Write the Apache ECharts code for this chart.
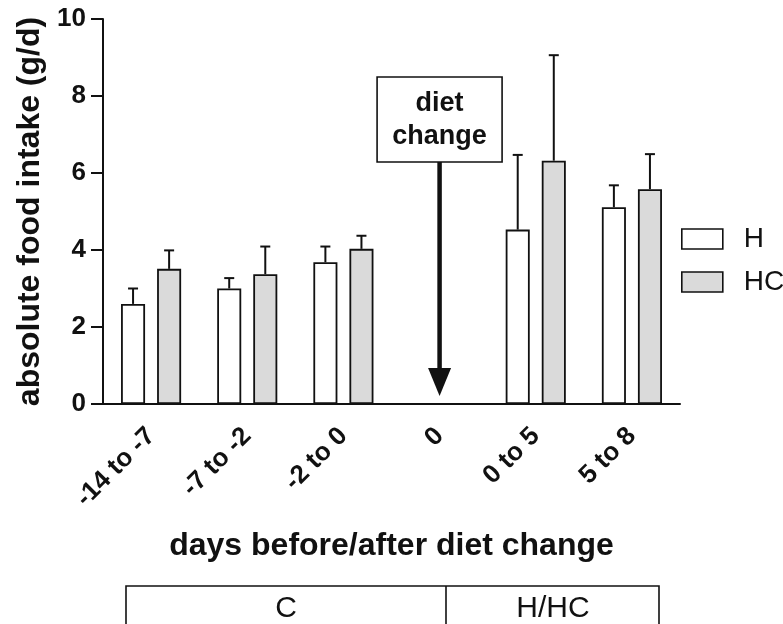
<!DOCTYPE html>
<html>
<head>
<meta charset="utf-8">
<script src="https://cdn.jsdelivr.net/npm/echarts@6/dist/echarts.min.js"></script>
<style>
  html, body { margin: 0; padding: 0; background: #fff; }
  #chart { width: 783px; height: 624px; }
</style>
</head>
<body>
<div id="chart"></div>
<script>
// Food intake per period, mean and SD (g/d)
const categories = ['-14 to -7', '-7 to -2', '-2 to 0', '0', '0 to 5', '5 to 8'];
const hMean  = [2.60, 3.00, 3.68, null, 4.53, 5.11];
const hSd    = [0.40, 0.27, 0.41, null, 1.94, 0.57];
const hcMean = [3.51, 3.37, 4.03, null, 6.32, 5.58];
const hcSd   = [0.48, 0.72, 0.34, null, 2.74, 0.91];
const seriesNames = ['H', 'HC'];
const dietChangeCategory = '0';
const periodLabels = ['C', 'H/HC'];

const FONT = '"Liberation Sans", Arial, Helvetica, sans-serif';
const INK = '#111';

function errorData(means, sds) {
  const out = [];
  means.forEach((m, i) => { if (m != null) out.push([i, m, sds[i]]); });
  return out;
}

// Upper error whisker drawn above each bar; side = -1 for first bar, +1 for second
function errorBars(side) {
  return function (params, api) {
    const i = api.value(0), m = api.value(1), s = api.value(2);
    const catW = api.size([1, 0])[0];
    const x = api.coord([i, m])[0] + side * catW * 0.1875;
    const yBase = api.coord([i, m])[1];
    const yTop = api.coord([i, m + s])[1];
    return {
      type: 'group',
      children: [
        { type: 'line', shape: { x1: x, y1: yBase, x2: x, y2: yTop }, style: { stroke: INK, lineWidth: 2 } },
        { type: 'line', shape: { x1: x - 5, y1: yTop, x2: x + 5, y2: yTop }, style: { stroke: INK, lineWidth: 2 } }
      ]
    };
  };
}

// "diet change" callout with arrow pointing at the category on the x axis
function dietChangeMarker(params, api) {
  const p = api.coord([api.value(0), 0]);
  const x = p[0], y0 = p[1];
  const boxTop = y0 - 327, boxBottom = y0 - 242, half = 62.5;
  const tipY = y0 - 8, headTop = y0 - 36;
  return {
    type: 'group',
    children: [
      { type: 'rect', shape: { x: x - half, y: boxTop, width: half * 2, height: boxBottom - boxTop },
        style: { fill: '#fff', stroke: INK, lineWidth: 1.6 } },
      { type: 'text', style: { x: x, y: boxTop + 27, text: 'diet', align: 'center', verticalAlign: 'middle',
        font: 'bold 27px ' + FONT, fill: INK } },
      { type: 'text', style: { x: x, y: boxTop + 60, text: 'change', align: 'center', verticalAlign: 'middle',
        font: 'bold 27px ' + FONT, fill: INK } },
      { type: 'line', shape: { x1: x, y1: boxBottom, x2: x, y2: headTop + 2 }, style: { stroke: INK, lineWidth: 4.5 } },
      { type: 'polygon', shape: { points: [[x - 11.5, headTop], [x + 11.5, headTop], [x, tipY]] },
        style: { fill: INK } }
    ]
  };
}

const chart = echarts.init(document.getElementById('chart'), null, { renderer: 'canvas' });

chart.setOption({
  animation: false,
  backgroundColor: '#fff',
  textStyle: { fontFamily: FONT },
  grid: { left: 103, right: 103, top: 19, bottom: 220, containLabel: false },
  legend: {
    orient: 'vertical',
    left: 676,
    top: 220,
    itemWidth: 41,
    itemHeight: 20,
    itemGap: 15,
    icon: 'rect',
    selectedMode: false,
    textStyle: { fontSize: 28, color: INK, fontFamily: FONT, padding: [0, 0, 0, 16], lineHeight: 22 },
    data: [
      { name: seriesNames[0], itemStyle: { color: '#fff', borderColor: INK, borderWidth: 1.6 } },
      { name: seriesNames[1], itemStyle: { color: '#dadada', borderColor: INK, borderWidth: 1.6 } }
    ]
  },
  xAxis: {
    type: 'category',
    data: categories,
    boundaryGap: true,
    axisLine: { lineStyle: { color: INK, width: 2 } },
    axisTick: { alignWithLabel: true, length: 11, lineStyle: { color: INK, width: 2 } },
    axisLabel: { rotate: 45, interval: 0, margin: 28, fontSize: 26, fontWeight: 'bold', color: INK, fontFamily: FONT },
    name: 'days before/after diet change',
    nameLocation: 'middle',
    nameGap: 126,
    nameTextStyle: { fontSize: 32, fontWeight: 'bold', color: INK, fontFamily: FONT }
  },
  yAxis: {
    type: 'value',
    min: 0,
    max: 10,
    interval: 2,
    splitLine: { show: false },
    axisLine: { show: true, lineStyle: { color: INK, width: 2 } },
    axisTick: { show: true, length: 12, lineStyle: { color: INK, width: 2 } },
    axisLabel: { margin: 17, fontSize: 26, fontWeight: 'bold', color: INK, fontFamily: FONT },
    name: 'absolute food intake (g/d)',
    nameLocation: 'middle',
    nameRotate: 90,
    nameGap: 49,
    nameTextStyle: { fontSize: 32, fontWeight: 'bold', color: INK, fontFamily: FONT }
  },
  series: [
    {
      name: seriesNames[0], type: 'bar', data: hMean.map(v => v == null ? '-' : v),
      barWidth: '25%', barGap: '50%',
      itemStyle: { color: '#fff', borderColor: INK, borderWidth: 1.8 }
    },
    {
      name: seriesNames[1], type: 'bar', data: hcMean.map(v => v == null ? '-' : v),
      barWidth: '25%', barGap: '50%',
      itemStyle: { color: '#dadada', borderColor: INK, borderWidth: 1.8 }
    },
    {
      type: 'custom', renderItem: errorBars(-1), data: errorData(hMean, hSd),
      encode: { x: 0, y: 1 }, z: 3, silent: true, clip: false
    },
    {
      type: 'custom', renderItem: errorBars(1), data: errorData(hcMean, hcSd),
      encode: { x: 0, y: 1 }, z: 3, silent: true, clip: false
    },
    {
      type: 'custom', renderItem: dietChangeMarker,
      data: [[categories.indexOf(dietChangeCategory), 0]],
      encode: { x: 0, y: 1 }, z: 4, silent: true, clip: false
    }
  ],
  graphic: [
    // period table under the axis: before (C) and after (H/HC) the diet change
    { type: 'rect', shape: { x: 126, y: 586, width: 533, height: 60 },
      style: { fill: 'none', stroke: INK, lineWidth: 1.6 } },
    { type: 'line', shape: { x1: 446, y1: 586, x2: 446, y2: 646 }, style: { stroke: INK, lineWidth: 1.6 } },
    { type: 'text', style: { x: 286, y: 609, text: periodLabels[0], align: 'center', verticalAlign: 'middle',
      font: '30px ' + FONT, fill: INK } },
    { type: 'text', style: { x: 553, y: 609, text: periodLabels[1], align: 'center', verticalAlign: 'middle',
      font: '30px ' + FONT, fill: INK } }
  ]
});
</script>
</body>
</html>
